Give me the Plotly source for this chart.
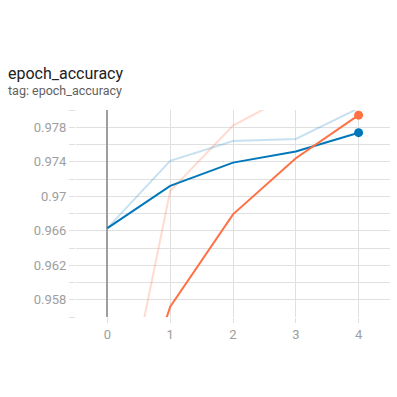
import plotly.graph_objects as go

steps = [0, 1, 2, 3, 4]
blue_raw = [0.9663, 0.9741, 0.9764, 0.97665, 0.9802]
blue_smooth = [0.9663, 0.9712, 0.9739, 0.97518, 0.97737]
orange_raw = [0.935, 0.9706, 0.9782, 0.9821, 0.9859]
orange_smooth = [0.935, 0.9572, 0.9679, 0.9744, 0.9794]

y_tickvals = [0.958, 0.962, 0.966, 0.970, 0.974, 0.978]
y_ticktext = ["0.958", "0.962", "0.966", "0.97", "0.974", "0.978"]

BLUE = "#0077bb"
ORANGE = "#ff7043"

fig = go.Figure()
fig.add_trace(go.Scatter(x=steps, y=orange_raw, mode="lines",
                         line=dict(color="rgba(255,112,67,0.25)", width=2), hoverinfo="skip"))
fig.add_trace(go.Scatter(x=steps, y=blue_raw, mode="lines",
                         line=dict(color="rgba(0,119,187,0.22)", width=2), hoverinfo="skip"))
fig.add_trace(go.Scatter(x=steps, y=blue_smooth, mode="lines",
                         line=dict(color=BLUE, width=2)))
fig.add_trace(go.Scatter(x=steps, y=orange_smooth, mode="lines",
                         line=dict(color=ORANGE, width=2)))
fig.add_trace(go.Scatter(x=[steps[-1]], y=[blue_smooth[-1]], mode="markers",
                         marker=dict(color=BLUE, size=9)))
fig.add_trace(go.Scatter(x=[steps[-1]], y=[orange_smooth[-1]], mode="markers",
                         marker=dict(color=ORANGE, size=9)))

fig.update_layout(
    width=397, height=397,
    margin=dict(l=76, r=7, t=110, b=80),
    paper_bgcolor="white", plot_bgcolor="white",
    showlegend=False,
    font=dict(family="Roboto", color="#9e9e9e", size=13),
    xaxis=dict(range=[-0.5, 4.5], tickvals=steps, showgrid=True,
               gridcolor="#e0e0e0", gridwidth=1, zeroline=True,
               zerolinecolor="#9e9e9e", zerolinewidth=1.5,
               ticks="outside", ticklen=5, tickcolor="#e0e0e0",
               showline=False, fixedrange=True),
    yaxis=dict(range=[0.956, 0.980], tickvals=y_tickvals, ticktext=y_ticktext,
               showgrid=True, gridcolor="#e0e0e0", gridwidth=1,
               minor=dict(dtick=0.002, tick0=0.956, showgrid=True, gridcolor="#e0e0e0",
                          ticks="outside", ticklen=6, tickcolor="#e0e0e0"),
               ticks="outside", ticklen=6, tickcolor="#e0e0e0",
               zeroline=False, showline=False, fixedrange=True),
)
fig.add_annotation(text="epoch_accuracy", xref="paper", yref="paper", x=0, y=1,
                   xanchor="left", yanchor="bottom", xshift=-70, yshift=25,
                   showarrow=False, font=dict(family="Roboto", size=16, color="#212121"))
fig.add_annotation(text="tag: epoch_accuracy", xref="paper", yref="paper", x=0, y=1,
                   xanchor="left", yanchor="bottom", xshift=-70, yshift=10,
                   showarrow=False, font=dict(family="Roboto", size=12.5, color="#616161"))

fig.write_html("out.html")
